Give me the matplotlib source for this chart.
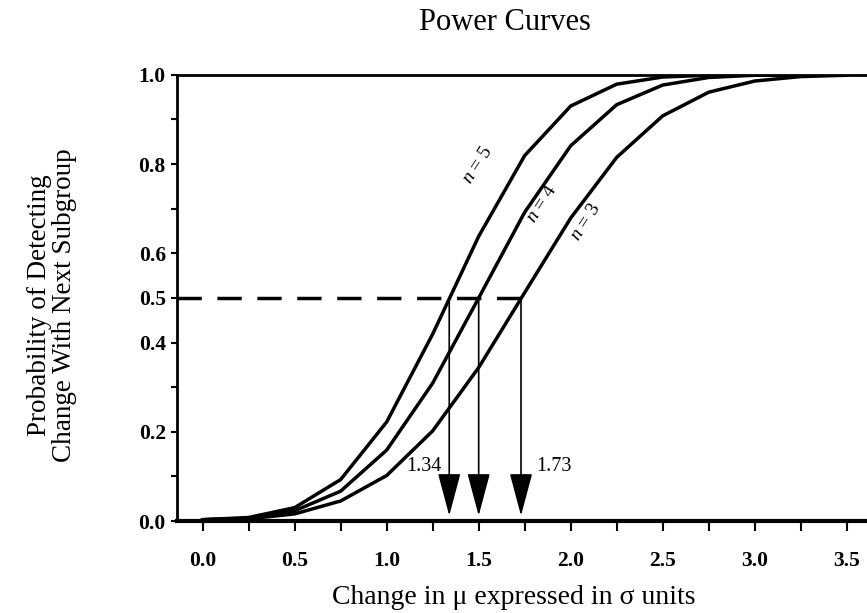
import matplotlib
matplotlib.use("Agg")
import matplotlib.pyplot as plt

plt.rcParams['font.family'] = ['Liberation Serif', 'DejaVu Serif']
plt.rcParams['mathtext.fontset'] = 'custom'
plt.rcParams['mathtext.rm'] = 'Liberation Serif'
plt.rcParams['mathtext.it'] = 'Liberation Serif:italic'

# shift in sigma units
delta = [0.0, 0.25, 0.5, 0.75, 1.0, 1.25, 1.5, 1.75, 2.0, 2.25, 2.5, 2.75, 3.0, 3.25, 3.5]
# probability of detecting the shift
p_n5 = [0.003, 0.008, 0.030, 0.093, 0.222, 0.419, 0.638, 0.819, 0.930, 0.979, 0.995, 0.999, 1.0, 1.0, 1.0]
p_n4 = [0.003, 0.006, 0.023, 0.067, 0.159, 0.309, 0.500, 0.692, 0.841, 0.933, 0.977, 0.994, 0.999, 1.0, 1.0]
p_n3 = [0.003, 0.005, 0.016, 0.045, 0.102, 0.202, 0.344, 0.512, 0.679, 0.815, 0.908, 0.961, 0.986, 0.996, 0.999]

# shifts where power = 0.5
half_x = [1.34, 1.5, 1.73]
half_labels = ['1.34', '', '1.73']

fig = plt.figure(figsize=(8.67, 6.13), dpi=100)
ax = fig.add_axes([0.204, 0.150, 0.796, 0.728])

for p in (p_n5, p_n4, p_n3):
    ax.plot(delta, p, color='black', lw=2.5, solid_joinstyle='miter', zorder=3)

# dashed line at 0.5
ax.plot([-0.14, max(half_x)], [0.5, 0.5], color='black', lw=2.5, dashes=[7, 4.5], zorder=2)

# arrows down to the x axis
for x in half_x:
    ax.annotate('', xy=(x, 0.012), xytext=(x, 0.5),
                arrowprops=dict(arrowstyle='-|>,head_length=1.35,head_width=0.36',
                                mutation_scale=20, lw=1.2, color='black',
                                shrinkA=0, shrinkB=0))

ax.text(1.20, 0.123, half_labels[0], ha='center', va='center', fontsize=14.5)
ax.text(1.907, 0.123, half_labels[2], ha='center', va='center', fontsize=14.5)

ax.text(1.495, 0.798, r'$n$ = 5', rotation=57, ha='center', va='center', fontsize=14)
ax.text(1.845, 0.711, r'$n$ = 4', rotation=57, ha='center', va='center', fontsize=14)
ax.text(2.08, 0.67, r'$n$ = 3', rotation=57, ha='center', va='center', fontsize=14)

ax.set_xlim(-0.14, 3.61)
ax.set_ylim(0, 1.0)

ax.spines['right'].set_visible(False)
ax.spines['left'].set_linewidth(2)
ax.spines['top'].set_linewidth(2)
ax.spines['bottom'].set_linewidth(3)

ax.set_xticks([0.0, 0.5, 1.0, 1.5, 2.0, 2.5, 3.0, 3.5])
ax.set_xticks([0.25, 0.75, 1.25, 1.75, 2.25, 2.75, 3.25], minor=True)
ax.set_xticklabels(['0.0', '0.5', '1.0', '1.5', '2.0', '2.5', '3.0', '3.5'], fontweight='bold')
ax.tick_params(axis='x', which='both', direction='out', length=7.5, width=1.5, labelsize=15.5, pad=14)

ax.set_yticks([0.0, 0.2, 0.4, 0.5, 0.6, 0.8, 1.0])
ax.set_yticklabels(['0.0', '0.2', '0.4', '0.5', '0.6', '0.8', '1.0'], fontweight='bold')
ax.set_yticks([0.2, 0.4, 0.6, 0.8], minor=True)
ax.tick_params(axis='y', which='major', direction='out', length=4, width=1.5, labelsize=15.5, pad=4)
ax.tick_params(axis='y', which='minor', direction='in', length=8, width=1.5)

sec = ax.secondary_yaxis('left')
sec.set_yticks([0.1, 0.3, 0.7, 0.9])
sec.set_yticklabels([])
sec.tick_params(direction='out', length=4, width=1.5)
sec.spines['left'].set_visible(False)

fig.text(505 / 867, 1 - 22 / 613, 'Power Curves', fontsize=22, ha='center', va='center')
fig.text(514 / 867, 1 - 597 / 613, 'Change in μ expressed in σ units', fontsize=20,
         ha='center', va='center')
fig.text(52 / 867, 1 - 305 / 613, 'Probability of Detecting\nChange With Next Subgroup',
         fontsize=19.5, rotation=90, ha='center', va='center', linespacing=1.05)

fig.savefig('out.png', dpi=100)
